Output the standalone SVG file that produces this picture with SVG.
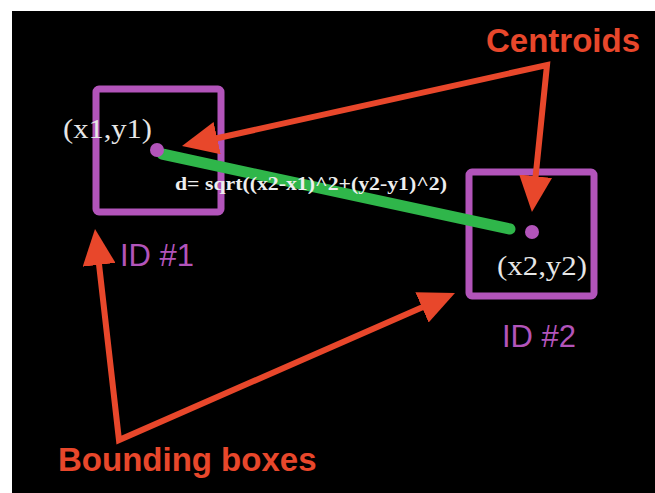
<svg xmlns="http://www.w3.org/2000/svg" width="655" height="493" viewBox="0 0 655 493">
  <defs>
    <style>
      .box { fill: none; stroke: #b254ba; stroke-width: 7; }
      .dot { fill: #b254ba; }
      .idlabel { font-family: "Liberation Sans", Arial, sans-serif; font-size: 31px; fill: #b254ba; }
      .callout { font-family: "Liberation Sans", Arial, sans-serif; font-size: 33px; font-weight: bold; fill: #e8472b; }
      .coord { font-family: "Liberation Serif", "Times New Roman", serif; font-size: 28px; fill: #e6e6e6; }
      .formula { font-family: "Liberation Serif", "Times New Roman", serif; font-size: 18px; font-weight: bold; fill: #eeeeee; }
      .arrow { fill: none; stroke: #e8472b; stroke-width: 6; stroke-linejoin: miter; stroke-miterlimit: 20; marker-start: url(#head); marker-end: url(#head); }
      .dist { stroke: #2fb64a; stroke-width: 11; stroke-linecap: round; }
    </style>
    <marker id="head" markerUnits="userSpaceOnUse" markerWidth="36" markerHeight="33" refX="6" refY="16.5" orient="auto-start-reverse" viewBox="0 0 36 33">
      <path d="M0,0 L36,16.5 L0,33 z" fill="#e8472b"/>
    </marker>
  </defs>
  <rect x="0" y="0" width="655" height="493" fill="#ffffff"/>
  <rect x="12" y="11" width="643" height="482" fill="#000000"/>

  <g id="box1">
    <rect class="box" x="96" y="89" width="125" height="123" rx="3"/>
    <text class="idlabel" x="120" y="266">ID #1</text>
  </g>
  <g id="box2">
    <rect class="box" x="469" y="172" width="125" height="124" rx="3"/>
    <text class="idlabel" x="502" y="347">ID #2</text>
  </g>

  <g id="connectors">
    <line class="dist" x1="162" y1="154" x2="510" y2="229"/>
    <path class="arrow" d="M211.3,139.5 L547,65 L535,182.2"/>
    <path class="arrow" d="M98.4,258.8 L119,440 L427.5,305"/>
  </g>

  <g id="centroid1">
    <circle class="dot" cx="157" cy="150" r="7"/>
    <text class="coord" x="63" y="138" textLength="89" lengthAdjust="spacingAndGlyphs">(x1,y1)</text>
  </g>
  <g id="centroid2">
    <circle class="dot" cx="532" cy="232" r="7"/>
    <text class="coord" x="497" y="275" textLength="90" lengthAdjust="spacingAndGlyphs">(x2,y2)</text>
  </g>

  <g id="formula">
    <text class="formula" x="175" y="190" textLength="272" lengthAdjust="spacingAndGlyphs">d= sqrt((x2-x1)^2+(y2-y1)^2)</text>
  </g>

  <g id="centroids-label">
    <text class="callout" x="486" y="52">Centroids</text>
  </g>
  <g id="bounding-label">
    <text class="callout" x="58" y="471">Bounding boxes</text>
  </g>
</svg>
